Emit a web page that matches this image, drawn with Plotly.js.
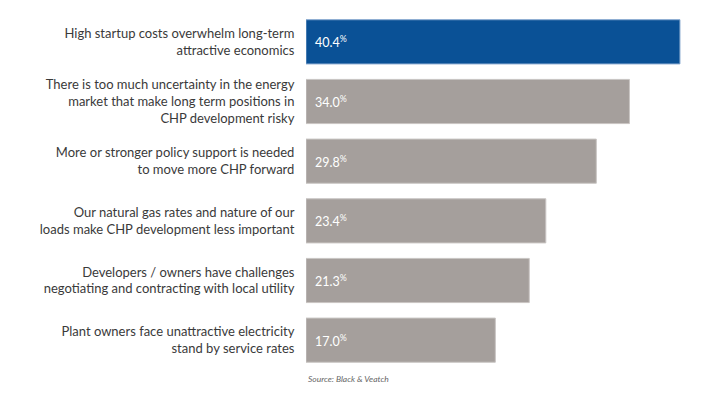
<!DOCTYPE html>
<html>
<head>
<meta charset="utf-8">
<script src="https://cdn.plot.ly/plotly-3.0.1.min.js"></script>
<style>html,body{margin:0;padding:0;background:#fff;}#chart{width:720px;height:395px;}</style>
</head>
<body>
<div id="chart"></div>
<script>
const categories = [
  "High startup costs overwhelm long-term<br>attractive economics",
  "There is too much uncertainty in the energy<br>market that make long term positions in<br>CHP development risky",
  "More or stronger policy support is needed<br>to move more CHP forward",
  "Our natural gas rates and nature of our<br>loads make CHP development less important",
  "Developers / owners have challenges<br>negotiating and contracting with local utility",
  "Plant owners face unattractive electricity<br>stand by service rates"
];
const values = [40.4, 34.0, 29.8, 23.4, 21.3, 17.0];
const barColors = ["#0a5196", "#a59f9c", "#a59f9c", "#a59f9c", "#a59f9c", "#a59f9c"];
const edgeColors = ["#7fa3cc", "#c9c5c3", "#c9c5c3", "#c9c5c3", "#c9c5c3", "#c9c5c3"];
const barBase = -7.0;
const sourceText = "Source: Black &amp; Veatch";

const trace = {
  type: "bar",
  orientation: "h",
  y: categories,
  x: values.map(v => v - barBase),
  base: barBase,
  width: 0.74,
  marker: {color: barColors, line: {color: edgeColors, width: 1}},
  hoverinfo: "skip"
};

const annotations = values.map((v, i) => ({
  x: barBase, y: categories[i], xref: "x", yref: "y",
  xanchor: "left", yanchor: "middle", xshift: 7, showarrow: false,
  text: v.toFixed(1) + "<sup>%</sup>",
  font: {family: "Lato, 'Open Sans', sans-serif", size: 12.5, color: "#ffffff"}
}));
annotations.push({
  x: barBase, xref: "x", yref: "paper", yanchor: "top", xanchor: "left",
  y: -0.005, showarrow: false, text: "<i>" + sourceText + "</i>",
  font: {family: "Lato, sans-serif", size: 8.5, color: "#666666"}
});

const layout = {
  width: 720, height: 395,
  margin: {l: 306, r: 0, t: 12, b: 25},
  paper_bgcolor: "#ffffff", plot_bgcolor: "#ffffff",
  showlegend: false,
  xaxis: {range: [barBase, 45.48], visible: false, fixedrange: true},
  yaxis: {
    autorange: "reversed", showgrid: false, zeroline: false, showline: false,
    ticks: "outside", ticklen: 8, tickcolor: "rgba(0,0,0,0)",
    tickfont: {family: "Lato, 'Open Sans', sans-serif", size: 13, color: "#3a3a3a"}
  },
  annotations: annotations
};

Plotly.newPlot("chart", [trace], layout, {displayModeBar: false, staticPlot: true});
</script>
</body>
</html>
